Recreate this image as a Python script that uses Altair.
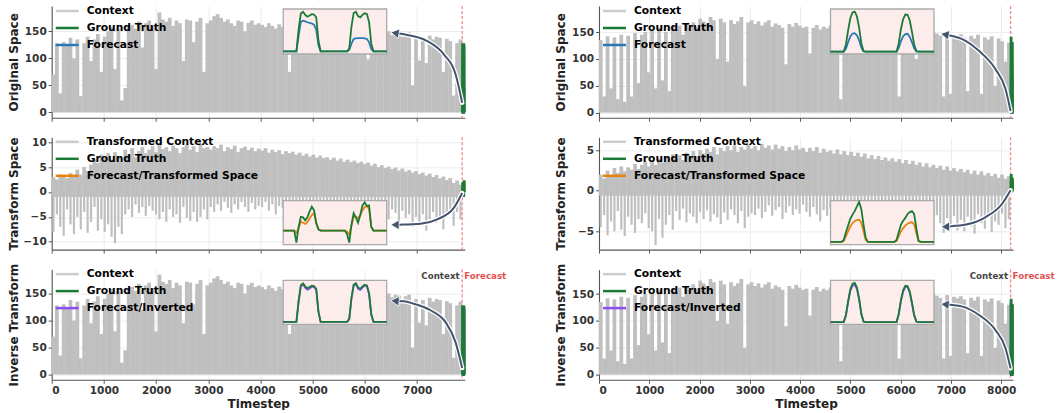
import altair as alt
import pandas as pd

FONT = "DejaVu Sans"
GRAY = "#bfbfbf"
LEGEND_GRAY = "#cccccc"
GREEN = "#1b7b35"
BLUE = "#2a78b6"
ORANGE = "#e8820e"
PURPLE = "#8a4ef2"
ARROW = "#44546c"
PINK = "#fcecec"
RED = "#f08a8a"

# ---------------- data ----------------
LEFT_CONTEXT_END = 7862
LEFT_X_MAX = 7910
RIGHT_CONTEXT_END = 8187
RIGHT_X_MAX = 8235

left_x_ticks = [0, 1000, 2000, 3000, 4000, 5000, 6000, 7000]
right_x_ticks = [0, 1000, 2000, 3000, 4000, 5000, 6000, 7000, 8000]

# daily peak of the (original-space) context, left series
left_original_peaks = [
    70, 128, 35, 130, 125, 138, 100, 135, 30, 128, 140, 95, 135, 145, 75, 140,
    150, 158, 80, 155, 22, 45, 160, 162, 155, 168, 120, 165, 170, 160, 80,
    185, 172, 168, 175, 160, 170, 165, 95, 172, 170, 130, 168, 175, 75, 165,
    170, 178, 182, 175, 168, 172, 165, 160, 170, 168, 150, 166, 170, 162, 165,
    162, 158, 165, 160, 155, 163, 158, 160, 75, 158, 162, 155, 160, 158, 156,
    158, 155, 160, 154, 157, 152, 156, 150, 155, 153, 151, 156, 150, 152, 155,
    150, 98, 152, 148, 150, 145, 147, 150, 143, 148, 146, 140, 145, 148, 50,
    140, 96, 138, 91, 142, 135, 140, 138, 75, 136, 132, 31, 128, 135,
]
left_transform_high = [
    3.0, 2.5, 3.5, 3.2, 2.8, 3.8, 3.0, 4.5, 3.5, 5.0, 4.2, 5.5, 6.5, 5.8, 7.5, 6.8,
    7.8, 6.5, 8.0, 7.2, 6.0, 8.5, 7.5, 8.8, 7.0, 8.2, 9.0, 7.8, 8.5, 9.2, 8.0,
    9.5, 8.6, 9.0, 8.2, 9.3, 8.8, 7.8, 9.0, 9.5, 8.5, 9.2, 8.0, 9.6, 8.8, 9.0,
    8.5, 9.2, 8.8, 9.5, 8.2, 9.0, 8.6, 9.3, 8.0, 8.8, 9.1, 8.4, 8.9, 8.2, 8.7,
    8.3, 8.8, 7.9, 8.5, 8.0, 8.4, 7.6, 8.2, 7.8, 8.1, 7.5, 7.9, 7.3, 7.7, 7.1,
    7.5, 6.9, 7.3, 6.8, 7.0, 6.5, 6.9, 6.3, 6.7, 6.1, 6.5, 6.0, 6.3, 5.8, 6.1,
    5.6, 5.9, 5.3, 5.7, 5.0, 5.4, 4.8, 5.1, 4.6, 4.9, 4.3, 4.7, 4.1, 4.4, 3.9,
    4.2, 3.6, 3.9, 3.3, 3.7, 3.0, 3.4, 2.7, 3.1, 2.4, 2.8, 1.8, 2.3, 1.5,
]
left_transform_low = [
    -8.0, -4.5, -7.0, -8.8, -3.5, -6.5, -8.5, -5.0, -7.5, -4.0, -8.2, -6.0, -3.0, -7.8, -5.5, -8.0,
    -6.5, -9.0, -10.3, -7.0, -8.5, -4.5, -3.5, -5.0, -2.5, -4.2, -3.0, -4.8, -2.8, -3.8, -4.5,
    -5.5, -4.0, -6.0, -3.5, -5.0, -4.5, -6.2, -3.0, -5.2, -5.8, -4.0, -6.0, -5.0, -3.5, -5.5,
    -3.0, -4.0, -2.5, -3.8, -2.0, -3.2, -4.2, -2.5, -3.5, -2.0, -3.0, -4.0, -2.2, -3.5, -2.8,
    -3.0, -2.0, -3.8, -2.5, -4.5, -2.8, -3.2, -2.0, -3.5, -2.5, -3.0, -4.0, -2.2, -3.0, -2.5,
    -3.5, -2.0, -4.0, -2.8, -3.2, -5.0, -2.5, -3.8, -2.2, -4.5, -3.0, -2.5, -4.2, -3.0, -2.0,
    -3.5, -5.0, -2.5, -4.0, -3.0, -4.8, -2.8, -5.5, -3.5, -4.2, -6.0, -3.8, -5.2, -4.5, -7.0,
    -5.0, -6.5, -4.5, -7.8, -5.5, -4.0, -6.2, -5.0, -7.5, -4.5, -3.5, -6.8, -4.0, -5.5,
]
LEFT_NIGHT_LEVEL = -1.0

right_original_peaks = [
    135, 30, 142, 45, 140, 25, 145, 20, 143, 30, 148, 55, 145, 150, 75,
    152, 45, 158, 60, 150, 40, 160, 155, 162, 145, 165, 158, 168, 160, 175,
    170, 165, 178, 172, 100, 175, 168, 95, 172, 165, 170, 178, 50, 168, 172,
    165, 170, 162, 168, 172, 160, 166, 163, 158, 90, 165, 160, 167, 162, 158,
    160, 110, 158, 163, 155, 160, 157, 162, 154, 158, 25, 156, 160, 152, 158,
    155, 110, 157, 153, 158, 150, 155, 152, 156, 150, 154, 148, 30, 152, 150,
    148, 152, 100, 150, 146, 149, 145, 150, 147, 143, 30, 148, 35, 145, 142,
    146, 140, 40, 143, 138, 145, 35, 140, 136, 142, 50, 138, 133, 95, 130,
]
right_transform_high = [
    2.0, 1.5, 2.5, 1.8, 2.8, 2.2, 3.0, 2.4, 2.9, 2.6, 3.3, 2.7, 3.2, 3.6, 3.0,
    3.8, 3.2, 4.0, 3.5, 4.2, 3.6, 4.5, 4.0, 4.4, 3.8, 4.7, 4.2, 4.9, 4.3, 5.0,
    4.6, 5.2, 4.8, 5.4, 4.5, 5.3, 4.9, 5.5, 5.0, 5.6, 4.8, 5.4, 5.1, 5.7, 5.2,
    5.5, 5.0, 5.8, 5.3, 5.6, 5.1, 5.7, 5.2, 5.5, 4.9, 5.4, 5.0, 5.6, 5.1, 5.3,
    4.8, 5.3, 4.9, 5.4, 4.7, 5.2, 4.8, 5.0, 4.6, 5.1, 4.5, 4.9, 4.4, 4.8, 4.3,
    4.7, 4.2, 4.6, 4.0, 4.4, 3.9, 4.3, 3.8, 4.1, 3.7, 4.0, 3.6, 3.9, 3.4, 3.8,
    3.3, 3.7, 3.2, 3.5, 3.0, 3.4, 2.9, 3.2, 2.8, 3.1, 2.6, 3.0, 2.5, 2.8, 2.4,
    2.7, 2.3, 2.6, 2.1, 2.5, 2.0, 2.4, 1.9, 2.2, 1.8, 2.1, 1.6, 2.0, 1.5, 1.8,
]
right_transform_low = [
    -4.5, -3.0, -5.5, -3.8, -5.0, -2.5, -4.8, -5.6, -3.2, -4.2, -5.2, -3.5, -4.0, -2.8, -4.6,
    -5.0, -6.7, -3.5, -5.8, -4.2, -3.0, -4.8, -2.5, -3.6, -2.2, -3.9, -2.8, -3.2, -4.0, -2.6,
    -3.5, -2.4, -3.8, -2.9, -3.3, -4.1, -2.7, -3.6, -2.3, -3.0, -4.0, -2.5, -4.6, -3.2, -2.8,
    -3.0, -2.2, -3.4, -2.6, -1.8, -3.1, -2.4, -2.0, -3.5, -2.7, -1.9, -3.0, -2.3, -2.8, -1.7,
    -2.6, -3.2, -2.0, -2.9, -3.8, -2.4, -3.1, -2.2, -3.5, -2.6, -3.0, -2.1, -3.3, -2.7, -2.4,
    -3.0, -2.3, -3.4, -2.6, -2.9, -3.7, -2.2, -3.1, -2.5, -3.6, -2.8, -2.0, -3.2, -2.7, -3.5,
    -2.9, -3.8, -2.4, -3.3, -4.2, -2.8, -3.6, -4.8, -3.0, -4.0, -5.2, -3.4, -4.5, -3.1, -4.9,
    -3.6, -5.0, -3.2, -4.4, -5.3, -2.9, -4.0, -4.7, -3.3, -5.1, -3.8, -4.2, -2.8, -4.6, -3.5,
]
RIGHT_NIGHT_LEVEL = -0.6

# forecast window (48 steps)
left_gt_original = [0, 0, 0, 0, 0, 0, 0,
                    70, 122, 128, 118, 112, 116, 120, 119, 110, 35,
                    0, 0, 0, 0, 0, 0, 0, 0, 0, 0, 0, 0, 0,
                    10, 80, 124, 128, 114, 110, 118, 123, 121, 95, 25,
                    0, 0, 0, 0, 0, 0, 0]
left_fc_original = [0, 0, 0, 0, 0, 0, 0,
                    50, 95, 99, 97, 94, 92, 90, 86, 70, 20,
                    0, 0, 0, 0, 0, 0, 0, 0, 0, 0, 0, 0, 0,
                    5, 25, 40, 42, 43, 43, 43, 42, 40, 30, 8,
                    0, 0, 0, 0, 0, 0, 0]
left_gt_transform = [0, 0, 0, 0, 0, 0,
                     -1.0, 0.3, 1.15, 1.1, 0.85, 1.1, 1.6, 2.0, 1.7, 0.6, 0.1,
                     0, 0, 0, 0, 0, 0, 0, 0, 0, 0, 0, 0,
                     -0.3, -1.0, 0.5, 1.45, 1.1, 0.65, 1.3, 2.1, 2.35, 2.05, 2.1, 0.3,
                     0, 0, 0, 0, 0, 0, 0]
left_fc_transform = [0, 0, 0, 0, 0, 0,
                     -0.2, 0.2, 0.75, 0.65, 0.55, 0.7, 1.0, 1.3, 1.45, 0.7, 0.1,
                     0, 0, 0, 0, 0, 0, 0, 0, 0, 0, 0, 0,
                     -0.1, -0.3, 0.4, 1.15, 1.15, 1.05, 1.3, 1.7, 1.95, 2.05, 1.8, 0.3,
                     0, 0, 0, 0, 0, 0, 0]
left_fc_inverted = [0, 0, 0, 0, 0, 0, 0,
                    66, 118, 124, 113, 107, 111, 116, 116, 106, 33,
                    0, 0, 0, 0, 0, 0, 0, 0, 0, 0, 0, 0, 0,
                    9, 77, 120, 126, 110, 106, 114, 120, 119, 92, 23,
                    0, 0, 0, 0, 0, 0, 0]

right_gt_original = [0, 0, 0, 0, 0, 0, 0,
                     25, 75, 118, 138, 141, 125, 85, 30, 2,
                     0, 0, 0, 0, 0, 0, 0, 0, 0, 0, 0, 0, 0, 0, 0,
                     30, 80, 115, 131, 130, 110, 70, 25, 2,
                     0, 0, 0, 0, 0, 0, 0, 0]
right_fc_original = [0, 0, 0, 0, 0, 0, 0,
                     10, 33, 54, 64, 65, 58, 40, 14, 1,
                     0, 0, 0, 0, 0, 0, 0, 0, 0, 0, 0, 0, 0, 0, 0,
                     13, 37, 54, 62, 63, 52, 33, 12, 1,
                     0, 0, 0, 0, 0, 0, 0, 0]
right_gt_transform = [0, 0, 0, 0, 0, 0,
                      0.1, 0.5, 0.85, 1.2, 1.42, 1.6, 1.85, 2.08, 1.7, 0.9, 0.2,
                      0, 0, 0, 0, 0, 0, 0, 0, 0, 0, 0, 0, 0,
                      0.1, 0.5, 0.9, 1.1, 1.25, 1.45, 1.55, 1.6, 1.45, 0.7, 0.05,
                      0, 0, 0, 0, 0, 0, 0]
right_fc_transform = [0, 0, 0, 0, 0, 0,
                      0.05, 0.3, 0.55, 0.8, 0.98, 1.08, 1.14, 1.16, 1.0, 0.55, 0.1,
                      0, 0, 0, 0, 0, 0, 0, 0, 0, 0, 0, 0, 0,
                      0.05, 0.3, 0.55, 0.72, 0.85, 0.95, 1.0, 1.02, 0.92, 0.45, 0.03,
                      0, 0, 0, 0, 0, 0, 0]
right_fc_inverted = [0, 0, 0, 0, 0, 0, 0,
                     23, 71, 112, 131, 134, 119, 81, 28, 2,
                     0, 0, 0, 0, 0, 0, 0, 0, 0, 0, 0, 0, 0, 0, 0,
                     28, 76, 110, 126, 126, 106, 67, 24, 2,
                     0, 0, 0, 0, 0, 0, 0, 0]

# annotation arrows (data coordinates of each panel)
arrow_paths = {
    ("L", "orig"): ([7862, 7734, 7510, 7192, 6743, 6600], [17.8, 70.9, 107.4, 132, 144.4, 146.5], 280),
    ("L", "trans"): ([7862, 7701, 7383, 7063, 6743, 6600], [-0.2, -3.2, -5.5, -6.4, -6.55, -6.6], 270),
    ("L", "inv"): ([7862, 7734, 7543, 7255, 6935, 6743, 6600], [12, 60, 97, 119, 131, 135.6, 136], 275),
    ("R", "orig"): ([8187, 8086, 7885, 7551, 7215, 7026, 6907], [3, 44, 81, 115.5, 137.4, 142.5, 145], 280),
    ("R", "trans"): ([8187, 8020, 7684, 7350, 7014, 6919], [0.06, -1.6, -3.27, -4.1, -4.38, -4.44], 270),
    ("R", "inv"): ([8187, 8086, 7885, 7551, 7215, 7026, 6909], [11.7, 49, 83, 111.5, 127, 129.5, 130.5], 275),
}

# ---------------- layout ----------------
W_L, W_R = 413, 414
HEIGHTS = {"orig": 111.7, "trans": 112.3, "inv": 110.2}
INSET_X = (231.5, 335)
INSET_Y = {"orig": (3, 48), "trans": (63.3, 107.3), "inv": (10.7, 54.8)}
LEGEND_Y0 = {"orig": 5, "trans": 4.5, "inv": 4.5}


def make_panel(col, kind):
    left = col == "L"
    W = W_L if left else W_R
    H = HEIGHTS[kind]
    ctx_end = LEFT_CONTEXT_END if left else RIGHT_CONTEXT_END
    x_max = LEFT_X_MAX if left else RIGHT_X_MAX
    xticks = left_x_ticks if left else right_x_ticks
    bottom = kind == "inv"

    if kind == "trans":
        y_dom = [-11.57, 10.98] if left else [-7.26, 6.6]
        yticks = [-10, -5, 0, 5, 10] if left else [-5, 0, 5]
        ytitle = "Transform Space"
        hi = left_transform_high if left else right_transform_high
        lows = left_transform_low if left else right_transform_low
        base = LEFT_NIGHT_LEVEL if left else RIGHT_NIGHT_LEVEL
        gt = left_gt_transform if left else right_gt_transform
        fc = left_fc_transform if left else right_fc_transform
        fc_color = ORANGE
        labels = ["Transformed Context", "Ground Truth", "Forecast/Transformed Space"]
        ins_dom = [-1.17, 2.5] if left else [-0.14, 2.15]
    else:
        yticks = [0, 50, 100, 150]
        hi = left_original_peaks if left else right_original_peaks
        lows = None
        base = 0
        gt = left_gt_original if left else right_gt_original
        if kind == "orig":
            y_dom = [-10, 196.9] if left else [-9.5, 198.5]
            ytitle = "Original Space"
            fc = left_fc_original if left else right_fc_original
            fc_color = BLUE
            labels = ["Context", "Ground Truth", "Forecast"]
            ins_dom = [-8.4, 136.8] if left else [-8.3, 150.4]
        else:
            y_dom = [-9.8, 194.3] if left else [-9.6, 195.5]
            ytitle = "Inverse Transform"
            fc = left_fc_inverted if left else right_fc_inverted
            fc_color = PURPLE
            labels = ["Context", "Ground Truth", "Forecast/Inverted"]
            ins_dom = [-8.4, 138] if left else [-8.3, 150.4]

    xaxis_kw = dict(values=xticks, format="d", grid=True, labels=bottom,
                    labelPadding=2, titlePadding=3)
    if bottom:
        xaxis_kw["title"] = "Timestep"
    else:
        xaxis_kw["title"] = None
    xaxis = alt.Axis(**xaxis_kw)
    yaxis = alt.Axis(values=yticks, format="d", grid=True, title=ytitle,
                     labelPadding=2, titleX=-38.6, titleY=H / 2,
                     titleBaseline="middle")

    def X(field):
        return alt.X(f"{field}:Q", scale=alt.Scale(domain=[0, x_max], nice=False, zero=False),
                     axis=xaxis)

    def Y(field):
        return alt.Y(f"{field}:Q", scale=alt.Scale(domain=y_dom, nice=False, zero=False),
                     axis=yaxis)

    n = len(hi)
    step = ctx_end / n
    bar_px = W * step / x_max + 0.35
    ctx_df = pd.DataFrame({"t": [(i + 0.5) * step for i in range(n)],
                           "lo": [base] * n, "hi": hi})
    layers = [alt.Chart(ctx_df).mark_rule(color=GRAY, strokeWidth=bar_px).encode(
        x=X("t"), y=Y("lo"), y2="hi")]
    if lows is not None:
        m = len(lows)
        sp_step = ctx_end / m
        sp_df = pd.DataFrame({"t": [(i + 0.5) * sp_step for i in range(m)],
                              "lo": lows, "z": [0] * m})
        layers.append(alt.Chart(sp_df).mark_rule(color=GRAY, strokeWidth=2.2).encode(
            x=X("t"), y=Y("lo"), y2="z"))

    layers.append(alt.Chart(pd.DataFrame({"t": [ctx_end]})).mark_rule(
        color=RED, strokeDash=[3, 2], strokeWidth=1.3).encode(x=X("t")))

    fdf = pd.DataFrame({"t": [ctx_end + i for i in range(len(fc))], "v": fc})
    gdf = pd.DataFrame({"t": [ctx_end + i for i in range(len(gt))], "v": gt})
    layers.append(alt.Chart(fdf).mark_line(color=fc_color, strokeWidth=2.5).encode(
        x=X("t"), y=Y("v")))
    layers.append(alt.Chart(gdf).mark_line(color=GREEN, strokeWidth=2.8).encode(
        x=X("t"), y=Y("v")))

    at, av, ang = arrow_paths[(col, kind)]
    adf = pd.DataFrame({"t": at, "v": av})
    layers.append(alt.Chart(adf).mark_line(color="white", strokeWidth=4.5,
                                           interpolate="monotone", strokeCap="round").encode(
        x=X("t"), y=Y("v")))
    layers.append(alt.Chart(adf).mark_line(color=ARROW, strokeWidth=2,
                                           interpolate="monotone").encode(
        x=X("t"), y=Y("v")))
    hdf = pd.DataFrame({"t": [at[-1]], "v": [av[-1]]})
    layers.append(alt.Chart(hdf).mark_point(shape="triangle", filled=True, size=95,
                                            angle=ang, color=ARROW, stroke="white",
                                            strokeWidth=0.8, opacity=1).encode(
        x=X("t"), y=Y("v")))

    if bottom:
        ldf = pd.DataFrame({"t": [ctx_end]})
        layers.append(alt.Chart(ldf).mark_text(text="Context", align="right", dx=-2.5,
                                               baseline="middle", font=FONT, fontWeight="bold",
                                               fontSize=8.7, color="#444444").encode(
            x=X("t"), y=alt.value(6.5)))
        layers.append(alt.Chart(ldf).mark_text(text="Forecast", align="left", dx=2,
                                               baseline="middle", font=FONT, fontWeight="bold",
                                               fontSize=8.7, color="#e05252").encode(
            x=X("t"), y=alt.value(6.5)))

    main = alt.layer(*layers)

    # inset
    x0, x1 = INSET_X
    y0, y1 = INSET_Y[kind]
    ix = alt.X("i:Q", scale=alt.Scale(domain=[0, len(gt) - 1], range=[x0, x1],
                                      nice=False, zero=False), axis=None)
    iy = alt.Y("v:Q", scale=alt.Scale(domain=ins_dom, range=[y1, y0],
                                      nice=False, zero=False), axis=None)
    bg = alt.Chart(pd.DataFrame({"k": [0]})).mark_rect(
        fill=PINK, stroke="#aaaaaa", strokeWidth=1.3).encode(
        x=alt.value(x0), x2=alt.value(x1), y=alt.value(y0), y2=alt.value(y1))
    ifc = alt.Chart(pd.DataFrame({"i": list(range(len(fc))), "v": fc})).mark_line(
        color=fc_color, strokeWidth=1.8).encode(x=ix, y=iy)
    igt = alt.Chart(pd.DataFrame({"i": list(range(len(gt))), "v": gt})).mark_line(
        color=GREEN, strokeWidth=1.8).encode(x=ix, y=iy)
    inset = alt.layer(bg, ifc, igt)

    # legend
    ly0 = LEGEND_Y0[kind]
    leg_df = pd.DataFrame({"row": [0, 1, 2], "label": labels,
                           "c": [LEGEND_GRAY, GREEN, fc_color]})
    ly = alt.Y("row:Q", scale=alt.Scale(domain=[0, 2], range=[ly0, ly0 + 34]), axis=None)
    lrule = alt.Chart(leg_df).mark_rule(strokeWidth=2.5).encode(
        x=alt.value(4), x2=alt.value(27), y=ly, color=alt.Color("c:N", scale=None))
    ltext = alt.Chart(leg_df).mark_text(align="left", baseline="middle", font=FONT,
                                        fontWeight="bold", fontSize=10.7, color="black").encode(
        x=alt.value(35), y=ly, text="label:N")
    legend = alt.layer(lrule, ltext)

    return alt.layer(main, inset, legend).resolve_scale(
        x="independent", y="independent").properties(width=W, height=H)


panels = [make_panel(c, k) for k in ("orig", "trans", "inv") for c in ("L", "R")]

chart = alt.concat(
    *panels, columns=2, spacing={"row": 19.3, "column": 134.3}, bounds="flush"
).properties(
    padding={"left": 6.7, "top": 5, "right": 0, "bottom": 0},
    background="white",
).configure_view(stroke=None).configure_axis(
    labelFont=FONT, titleFont=FONT, labelFontWeight="bold", titleFontWeight="bold",
    labelFontSize=10.5, titleFontSize=12, labelColor="#333333", titleColor="#222222",
    domainColor="#555555", tickColor="#555555", tickSize=3.5, domainWidth=1.1,
    gridColor="#e8e8e8", gridWidth=0.8,
)

chart.save("out.html", embed_options={"renderer": "svg", "actions": False})
